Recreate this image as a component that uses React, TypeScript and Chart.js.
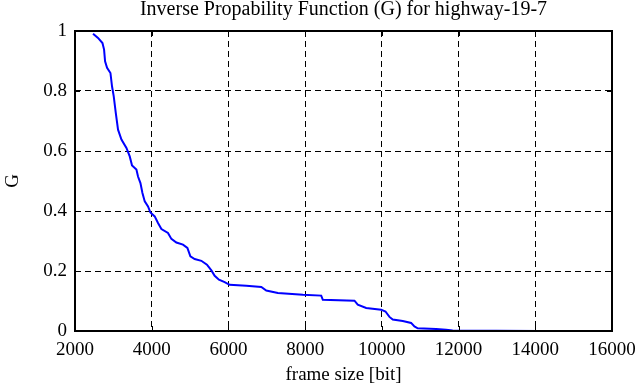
import React, { useEffect, useRef } from "react";
import { Chart, registerables } from "chart.js";

Chart.register(...registerables);

const TITLE = "Inverse Propability Function (G) for highway-19-7";
const X_LABEL = "frame size [bit]";
const Y_LABEL = "G";

const frameSize: number[] = [
  2470, 2600, 2716, 2758, 2784, 2836, 2924, 2966, 3010, 3063, 3122, 3211, 3341, 3427,
  3487, 3601, 3643, 3706, 3758, 3818, 3904, 3966, 4078, 4164, 4253, 4424, 4513, 4643,
  4815, 4930, 5008, 5120, 5294, 5440, 5555, 5641, 5753, 5901, 6031, 6466, 6857, 6987,
  7289, 7940, 8419, 8461, 9286, 9372, 9591, 9982, 10094, 10198, 10284, 10545, 10763,
  10849, 10935, 11414, 11674, 11846, 14100,
];
const gValue: number[] = [
  0.991, 0.977, 0.96, 0.938, 0.899, 0.877, 0.86, 0.815, 0.782, 0.727, 0.671, 0.638, 0.61, 0.582,
  0.552, 0.538, 0.515, 0.493, 0.46, 0.432, 0.415, 0.395, 0.382, 0.36, 0.34, 0.327, 0.307, 0.295,
  0.288, 0.277, 0.249, 0.24, 0.234, 0.221, 0.202, 0.184, 0.171, 0.163, 0.154, 0.151, 0.147, 0.135,
  0.127, 0.121, 0.118, 0.104, 0.101, 0.088, 0.077, 0.071, 0.065, 0.047, 0.038, 0.033, 0.027,
  0.015, 0.009, 0.007, 0.004, 0.002, 0.0,
];

const X_MIN = 2000;
const X_MAX = 16000;
const X_STEP = 2000;
const Y_MIN = 0;
const Y_MAX = 1;
const Y_STEP = 0.2;

const FONT = "'Liberation Serif', 'DejaVu Serif', serif";

const framePlugin = {
  id: "frameTicks",
  afterDraw(chart: any) {
    const { ctx, chartArea } = chart;
    const { left, right, top, bottom } = chartArea;
    const xs = chart.scales.x;
    const ys = chart.scales.y;
    ctx.save();
    ctx.strokeStyle = "#000";
    ctx.lineWidth = 1;
    ctx.setLineDash([]);
    ctx.beginPath();
    const tl = 5;
    for (let v = X_MIN; v <= X_MAX; v += X_STEP) {
      const px = Math.round(xs.getPixelForValue(v)) + 0.5;
      ctx.moveTo(px, bottom);
      ctx.lineTo(px, bottom - tl);
      ctx.moveTo(px, top);
      ctx.lineTo(px, top + tl);
    }
    for (let v = Y_MIN; v <= Y_MAX + 1e-9; v += Y_STEP) {
      const py = Math.round(ys.getPixelForValue(v)) + 0.5;
      ctx.moveTo(left, py);
      ctx.lineTo(left + tl, py);
      ctx.moveTo(right, py);
      ctx.lineTo(right - tl, py);
    }
    ctx.stroke();
    ctx.lineWidth = 2;
    ctx.strokeRect(left, top, right - left, bottom - top);
    ctx.restore();
  },
};

export default function App() {
  const ref = useRef<HTMLCanvasElement>(null);
  useEffect(() => {
    document.body.style.margin = "0";
    const canvas = ref.current!;
    const points = frameSize.map((x, i) => ({ x, y: gValue[i] }));
    const chart = new Chart(canvas, {
      type: "line",
      data: {
        datasets: [
          {
            data: points,
            borderColor: "#0000ff",
            borderWidth: 2,
            pointRadius: 0,
            fill: false,
            tension: 0,
          },
        ],
      },
      options: {
        animation: false,
        responsive: false,
        maintainAspectRatio: false,
        layout: { padding: { left: 0, right: 27, top: 0, bottom: 0 } },
        plugins: {
          legend: { display: false },
          tooltip: { enabled: false },
          title: {
            display: true,
            fullSize: false,
            text: TITLE,
            color: "#000",
            font: { family: FONT, size: 20, weight: "normal", lineHeight: 1.0 },
            padding: { top: 0, bottom: 11 },
          },
        },
        scales: {
          x: {
            type: "linear",
            min: X_MIN,
            max: X_MAX,
            ticks: {
              stepSize: X_STEP,
              color: "#000",
              font: { family: FONT, size: 19 },
              padding: 8,
              maxRotation: 0,
              autoSkip: false,
              callback: (v: any) => String(v),
            },
            grid: { color: "#000", lineWidth: 1, drawTicks: false },
            border: { display: false, dash: [6, 4] },
            title: {
              display: true,
              text: X_LABEL,
              color: "#000",
              font: { family: FONT, size: 19 },
              padding: { top: 2, bottom: 1 },
            },
            afterFit(scale: any) {
              scale.height = 56;
              scale.paddingLeft = 0;
              scale.paddingRight = 0;
            },
          },
          y: {
            type: "linear",
            min: Y_MIN,
            max: Y_MAX,
            ticks: {
              stepSize: Y_STEP,
              color: "#000",
              font: { family: FONT, size: 19 },
              padding: 8,
              callback: (v: any) => String(Number(Number(v).toFixed(1))),
            },
            grid: { color: "#000", lineWidth: 1, drawTicks: false },
            border: { display: false, dash: [6, 4] },
            title: {
              display: true,
              text: Y_LABEL,
              color: "#000",
              font: { family: FONT, size: 19 },
              padding: { top: 2, bottom: 0 },
            },
            afterFit(scale: any) {
              scale.width = 75;
            },
          },
        },
      },
      plugins: [framePlugin],
    });
    return () => chart.destroy();
  }, []);
  return (
    <div style={{ width: 639, height: 387 }}>
      <canvas ref={ref} width={639} height={387} style={{ display: "block" }} />
    </div>
  );
}
